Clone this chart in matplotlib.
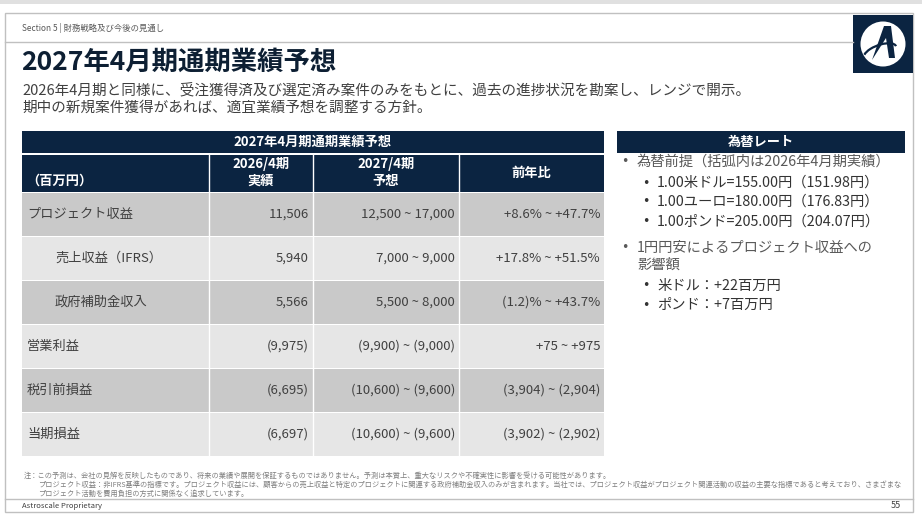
import matplotlib
matplotlib.use("Agg")
import matplotlib.pyplot as plt
from matplotlib.patches import Rectangle, Circle, Polygon, Arc

plt.rcParams['font.family'] = ['Noto Sans CJK JP', 'DejaVu Sans']

# ---- data ----
section_label = "Section 5 | 財務戦略及び今後の見通し"
title = "2027年4月期通期業績予想"
subtitle = ["2026年4月期と同様に、受注獲得済及び選定済み案件のみをもとに、過去の進捗状況を勘案し、レンジで開示。",
            "期中の新規案件獲得があれば、適宜業績予想を調整する方針。"]

table_title = "2027年4月期通期業績予想"
col_headers = ["（百万円）", "2026/4期\n実績", "2027/4期\n予想", "前年比"]
row_labels = ["プロジェクト収益", "売上収益（IFRS）", "政府補助金収入", "営業利益", "税引前損益", "当期損益"]
row_indent = [False, True, True, False, False, False]
actual_2026 = ["11,506", "5,940", "5,566", "(9,975)", "(6,695)", "(6,697)"]
forecast_2027 = ["12,500 ~ 17,000", "7,000 ~ 9,000", "5,500 ~ 8,000",
                 "(9,900) ~ (9,000)", "(10,600) ~ (9,600)", "(10,600) ~ (9,600)"]
yoy_change = ["+8.6% ~ +47.7%", "+17.8% ~ +51.5%", "(1.2)% ~ +43.7%",
              "+75 ~ +975", "(3,904) ~ (2,904)", "(3,902) ~ (2,902)"]

fx_title = "為替レート"
fx_levels = [0, 1, 1, 1, 0, 1, 1]
fx_texts = ["為替前提（括弧内は2026年4月期実績）",
            "1.00米ドル=155.00円（151.98円）",
            "1.00ユーロ=180.00円（176.83円）",
            "1.00ポンド=205.00円（204.07円）",
            "1円円安によるプロジェクト収益への\n影響額",
            "米ドル：+22百万円",
            "ポンド：+7百万円"]

notes = ["注：この予測は、会社の見解を反映したものであり、将来の業績や展開を保証するものではありません。予測は本質上、重大なリスクや不確実性に影響を受ける可能性があります。",
         "プロジェクト収益：非IFRS基準の指標です。プロジェクト収益には、顧客からの売上収益と特定のプロジェクトに関連する政府補助金収入のみが含まれます。当社では、プロジェクト収益がプロジェクト関連活動の収益の主要な指標であると考えており、さまざまな",
         "プロジェクト活動を費用負担の方式に関係なく追求しています。"]
footer_left = "Astroscale Proprietary"
page_no = "55"

# ---- styles / layout (pixels) ----
NAVY = "#0b2441"
DARK_ROW = "#c9c9c9"
LIGHT_ROW = "#e6e6e6"
TXT = "#404040"
col_edges = [22, 209, 313, 459, 604]
row_top0 = 193
row_pitch = 44

fig = plt.figure(figsize=(9.22, 5.2), dpi=100)
ax = fig.add_axes([0, 0, 1, 1])
ax.set_xlim(0, 922)
ax.set_ylim(520, 0)
ax.axis("off")

# slide frame
ax.add_patch(Rectangle((0, 0), 922, 4, color="#e0e0e0", lw=0))
ax.add_patch(Rectangle((5, 13), 908, 499, fill=False, ec="#c0c0c0", lw=1))
ax.plot([5, 853], [42, 42], color="#c0c0c0", lw=1)
ax.plot([5, 913], [499, 499], color="#c0c0c0", lw=1)

# logo
ax.add_patch(Rectangle((853, 15), 60, 58, color=NAVY, lw=0))
ax.add_patch(Circle((883, 44), 22.5, color="white", lw=0))
ax.add_patch(Polygon([[872, 60], [884, 26], [891, 26], [895, 58], [889, 58], [886, 38]],
                     closed=True, color=NAVY, lw=0))
ax.add_patch(Arc((880, 52), 34, 14, angle=-20, theta1=190, theta2=360, color=NAVY, lw=1.6))

# header texts
ax.text(22, 28, section_label, fontsize=6, color="#595959", va="center")
ax.text(21, 62, title, fontsize=19, fontweight="bold", color="#0d1f33", va="center")
ax.text(22, 90, subtitle[0], fontsize=10.5, color=TXT, va="center")
ax.text(22, 108, subtitle[1], fontsize=10.5, color=TXT, va="center")

# table title bar and header row
ax.add_patch(Rectangle((col_edges[0], 131), col_edges[-1] - col_edges[0], 22, color=NAVY, lw=0))
ax.text((col_edges[0] + col_edges[-1]) / 2, 142, table_title, fontsize=9.5, fontweight="bold",
        color="white", ha="center", va="center")
ax.add_patch(Rectangle((col_edges[0], 155), col_edges[-1] - col_edges[0], 37, color=NAVY, lw=0))
ax.text(26, 181, col_headers[0], fontsize=9.5, fontweight="bold", color="white", va="center")
for j in range(1, 4):
    cx = (col_edges[j] + col_edges[j + 1]) / 2
    lines = col_headers[j].split("\n")
    if len(lines) == 2:
        ax.text(cx, 164, lines[0], fontsize=9.5, fontweight="bold", color="white", ha="center", va="center")
        ax.text(cx, 181, lines[1], fontsize=9.5, fontweight="bold", color="white", ha="center", va="center")
    else:
        ax.text(cx, 173, lines[0], fontsize=9.5, fontweight="bold", color="white", ha="center", va="center")

# data rows
for i, label in enumerate(row_labels):
    top = row_top0 + i * row_pitch
    fc = DARK_ROW if i % 2 == 0 else LIGHT_ROW
    ax.add_patch(Rectangle((col_edges[0], top), col_edges[-1] - col_edges[0], row_pitch - 1.5, color=fc, lw=0))
    cy = top + (row_pitch - 1.5) / 2
    ax.text(55 if row_indent[i] else 27, cy, label, fontsize=9.5, color=TXT, va="center")
    for j, vals in enumerate([actual_2026, forecast_2027, yoy_change]):
        ax.text(col_edges[j + 2] - 4, cy, vals[i], fontsize=9.5, color=TXT, ha="right", va="center")

# column separators
for x in col_edges[1:-1]:
    ax.plot([x, x], [155, row_top0 + 6 * row_pitch], color="white", lw=1)

# FX panel
ax.add_patch(Rectangle((617, 131), 288, 22, color=NAVY, lw=0))
ax.text(761, 142, fx_title, fontsize=9.5, fontweight="bold", color="white", ha="center", va="center")
fx_y = [162, 183, 202, 222, 248, 286, 305]
for lvl, txt, y in zip(fx_levels, fx_texts, fx_y):
    bx, tx = (621, 637) if lvl == 0 else (642, 657)
    col = "#595959" if lvl == 0 else "#333333"
    ax.text(bx, y, "•", fontsize=9, color=col, va="center", family="DejaVu Sans")
    if "\n" in txt:
        ax.text(tx, y - 7, txt, fontsize=10.3, color=col, va="top", linespacing=1.25)
    else:
        ax.text(tx, y, txt, fontsize=10.3, color=col, va="center")

# notes & footer
ax.text(24, 476, notes[0], fontsize=5.2, color="#7f7f7f", va="center")
ax.text(38, 485, notes[1], fontsize=5.2, color="#7f7f7f", va="center")
ax.text(38, 494, notes[2], fontsize=5.2, color="#7f7f7f", va="center")
ax.text(22, 506, footer_left, fontsize=5.5, color="#404040", va="center")
ax.text(901, 506, page_no, fontsize=6.5, color="#404040", ha="right", va="center")

fig.savefig("out.png", dpi=100)
plt.close()
